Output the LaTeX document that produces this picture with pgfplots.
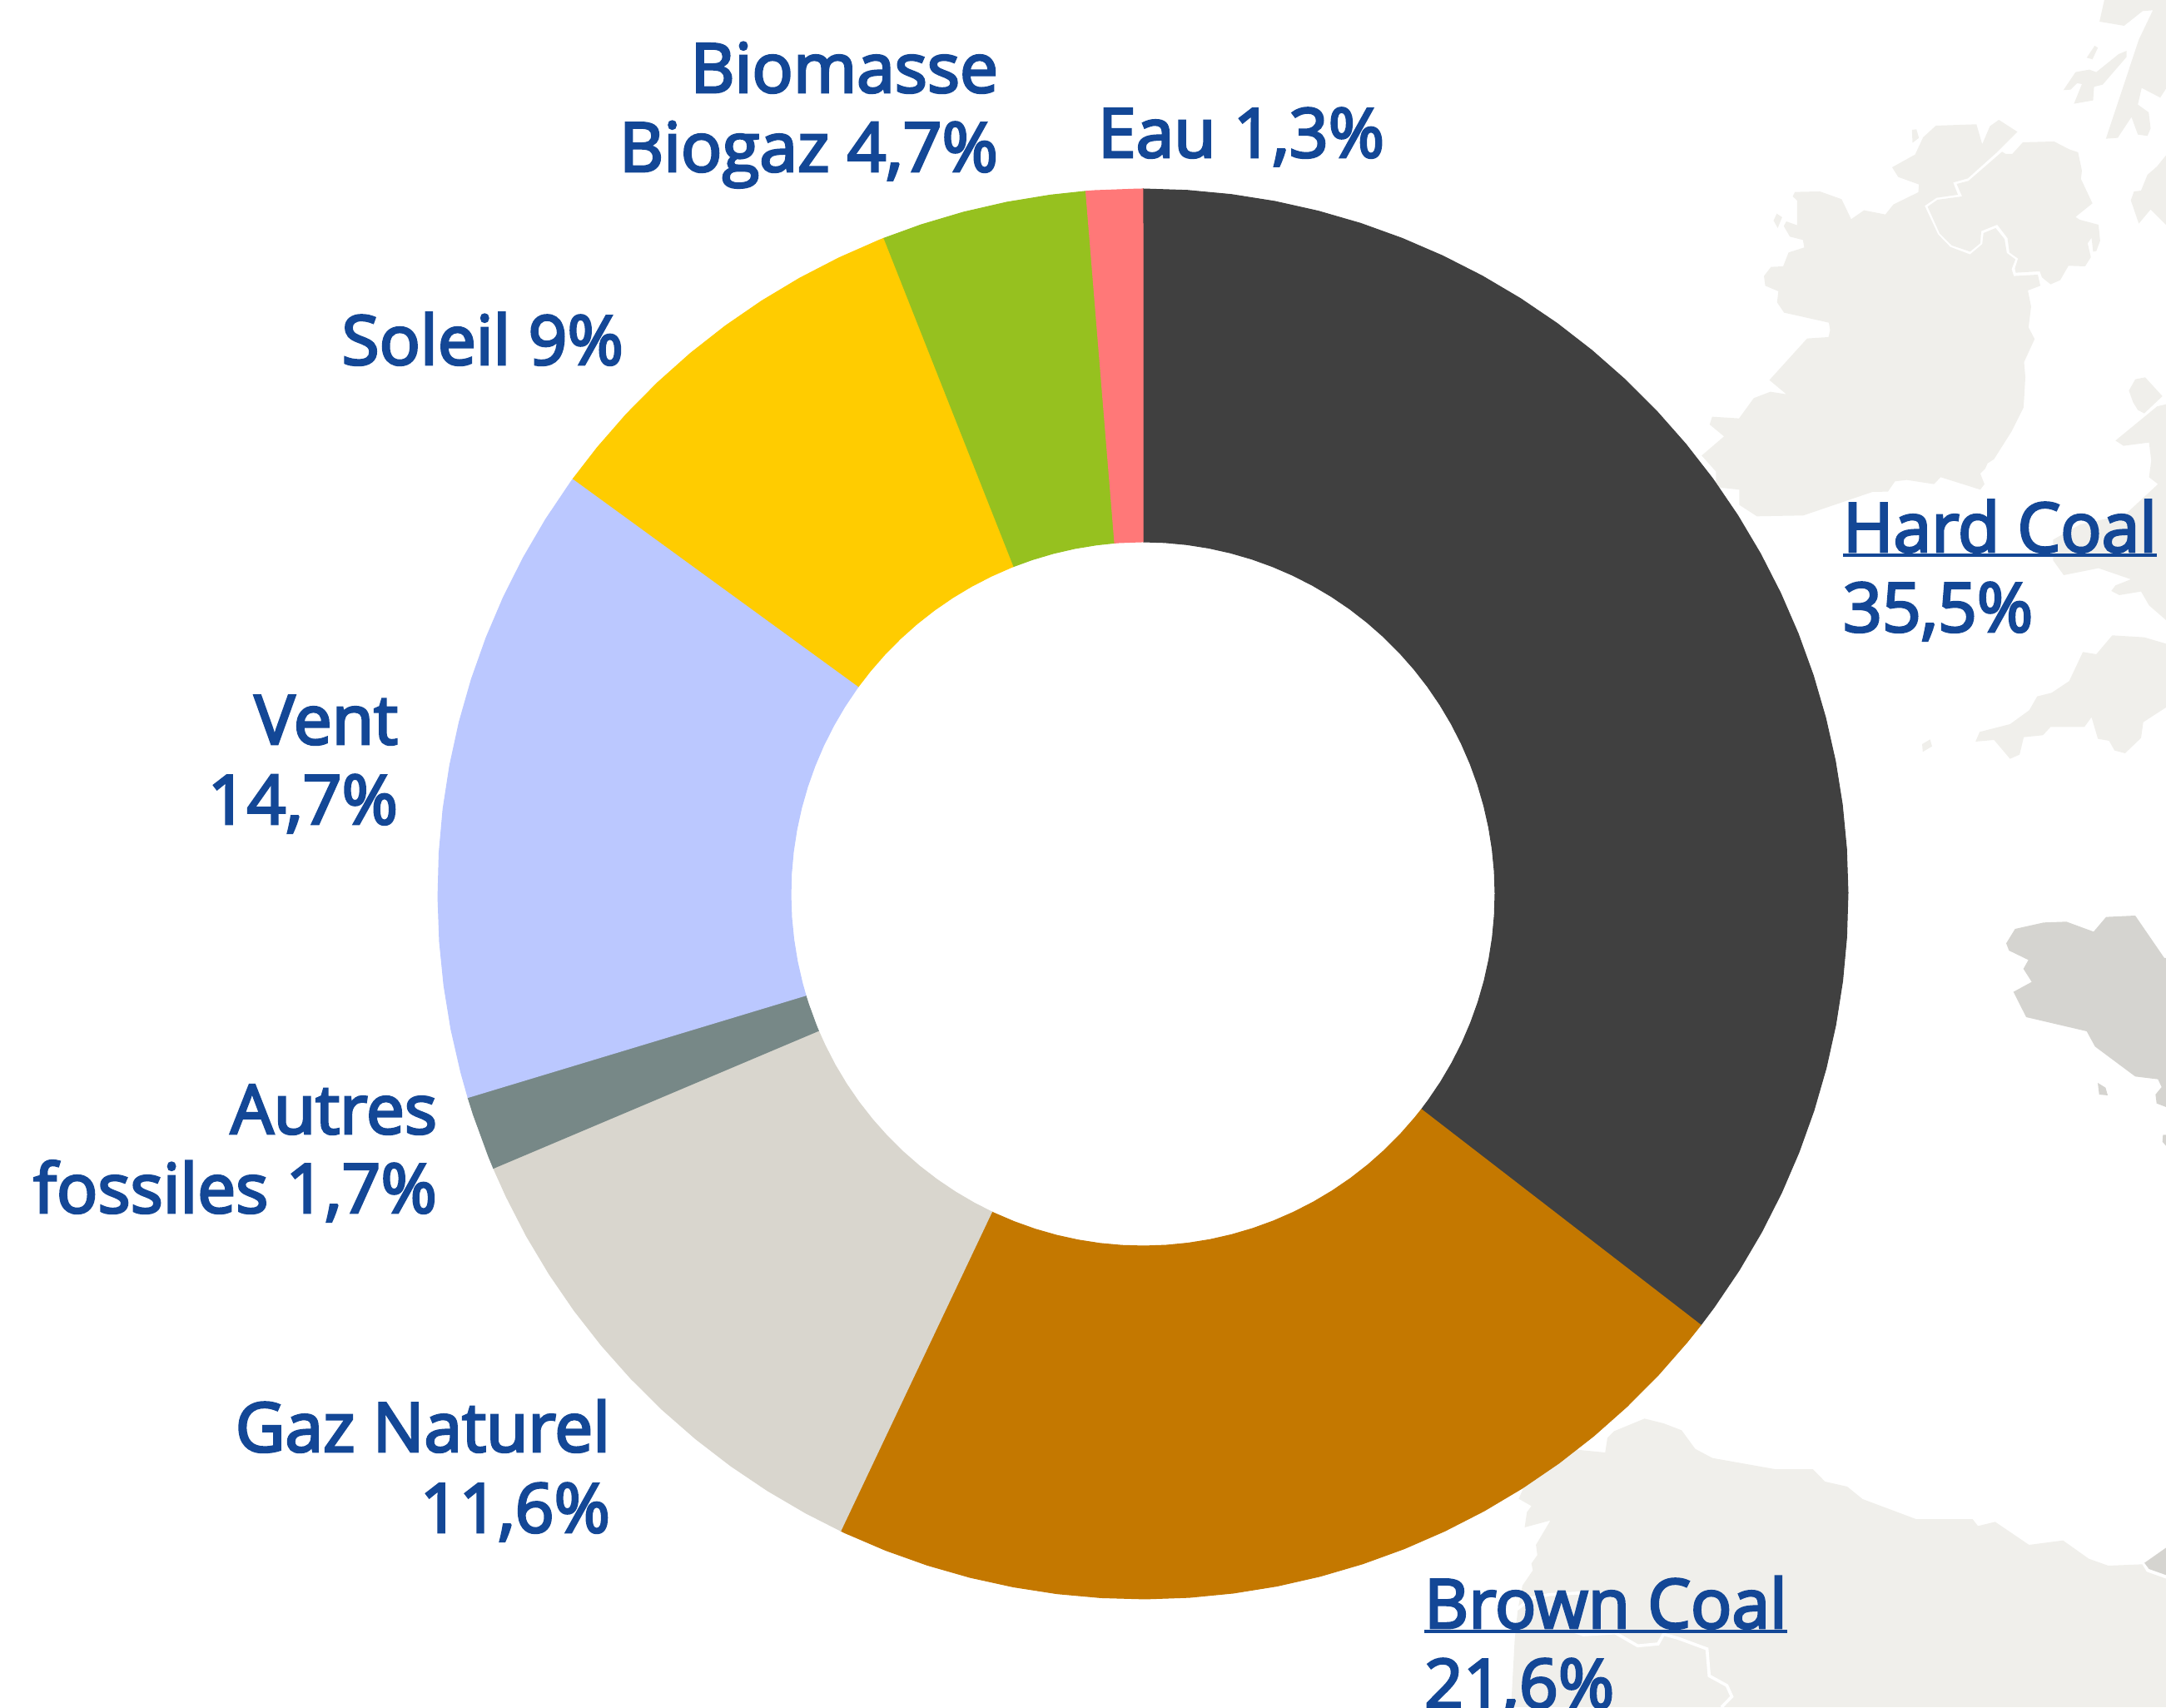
\documentclass[border=0pt]{standalone}
\usepackage{fontspec}
\setmainfont{Open Sans}[FakeBold=3.5]
\usepackage{pgfplots}
\pgfplotsset{compat=1.18}
\usepgfplotslibrary{polar}
\definecolor{txt}{HTML}{134796}
\definecolor{landA}{HTML}{F0EFEB}
\definecolor{landB}{HTML}{D5D4D0}
\definecolor{cCoal}{HTML}{404040}
\definecolor{cBrown}{HTML}{C47800}
\definecolor{cGas}{HTML}{D9D6CE}
\definecolor{cOther}{HTML}{778887}
\definecolor{cWind}{HTML}{BBC8FF}
\definecolor{cSun}{HTML}{FFCC00}
\definecolor{cBio}{HTML}{96C11F}
\definecolor{cWater}{HTML}{FF7878}
% map shape: colour, origin x, origin y, x scale, y scale, points
\newcommand{\poly}[6]{\addplot[fill=#1,draw=none,forget plot] table[header=false,row sep=\\,x expr={#2+\thisrowno{0}/#4-1373},y expr={1074-#3-\thisrowno{1}/#5}] {#6};}
\newcommand{\wline}[5]{\addplot[draw=white,line width=1.1pt,forget plot] table[header=false,row sep=\\,x expr={#1+\thisrowno{0}/#3-1373},y expr={1074-#2-\thisrowno{1}/#4}] {#5};}
% ring slice: colour, rows of (cumulative percent, radius)
\newcommand{\slice}[2]{\addplot[data cs=polar,fill=#1,draw=#1,line width=0.3pt,forget plot] table[header=false,row sep=\\,x expr={90-\thisrowno{0}*360/100.1},y expr={\thisrowno{1}}] {#2};}
\newsavebox{\ulbox}
\newcommand{\ul}[1]{\sbox{\ulbox}{#1}\rlap{\rule[-1.7pt]{\wd\ulbox}{1pt}}\usebox{\ulbox}}
\tikzset{lab/.style={inner sep=0pt,outer sep=0pt,text=txt,font=\fontsize{24.6pt}{29pt}\selectfont}}
\begin{document}
\begin{tikzpicture}
\begin{axis}[scale only axis,width=780.6pt,height=615.3pt,hide axis,
  xmin=-1373,xmax=1229,ymin=-977,ymax=1074,clip=true]
% --- map
\poly{landA}{2000}{0}{2.605}{3}{1120 513\\1218 510\\1265 538\\1293 549\\1305 615\\1302 645\\1338 733\\1285 782\\1298 792\\1357 810\\1362 868\\1350 905\\1340 907\\1335 857\\1323 877\\1333 927\\1315 960\\1263 958\\1237 1010\\1207 1025\\1180 1000\\1173 978\\1098 983\\1095 968\\1105 932\\1078 910\\1072 858\\1040 810\\990 833\\987 877\\955 907\\898 885\\860 842\\822 745\\853 720\\930 708\\913 663\\950 652\\1055 547\\1067 555\\1087 555\\}
\poly{landA}{2000}{0}{2.605}{3}{848 453\\975 448\\993 520\\1017 455\\1045 432\\1103 475\\1040 548\\948 643\\902 658\\917 702\\850 713\\813 742\\855 845\\893 890\\955 917\\993 880\\997 840\\1035 822\\1063 862\\1070 912\\1097 935\\1085 970\\1092 995\\1167 990\\1175 1030\\1136 1047\\1146 1105\\1138 1180\\1157 1222\\1124 1305\\1128 1360\\1124 1440\\1122 1470\\1085 1555\\1030 1655\\1010 1670\\1002 1690\\987 1707\\1000 1745\\987 1765\\863 1720\\842 1745\\757 1730\\720 1735\\698 1772\\650 1773\\433 1858\\288 1861\\233 1820\\233 1765\\160 1756\\160 1700\\115 1642\\185 1573\\140 1530\\148 1502\\232 1508\\278 1435\\330 1412\\380 1421\\327 1370\\445 1220\\512 1215\\517 1190\\513 1163\\373 1127\\351 1090\\355 1050\\314 1030\\310 995\\332 962\\370 960\\387 910\\436 892\\432 865\\391 853\\372 815\\380 798\\414 812\\414 723\\400 708\\407 692\\485 690\\553 718\\583 790\\623 758\\690 773\\715 737\\793 693\\795 665\\730 638\\711 603\\783 557\\808 495\\}
\poly{landA}{2000}{0}{2.605}{3}{1375 0\\1360 78\\1437 93\\1495 40\\1527 37\\1483 143\\1380 500\\1417 497\\1460 422\\1480 485\\1510 490\\1520 463\\1514 405\\1480 377\\1492 317\\1550 352\\1568 320\\1568 0\\}
\poly{landA}{2000}{0}{2.605}{3}{1345 165\\1355 172\\1338 214\\1320 208\\}
\poly{landA}{2000}{0}{2.605}{3}{1285 260\\1328 251\\1350 260\\1420 195\\1445 183\\1445 205\\1370 305\\1343 313\\1340 362\\1280 374\\1305 303\\1290 300\\1270 323\\1247 325\\}
\poly{landA}{2000}{0}{2.605}{3}{1568 560\\1540 600\\1510 630\\1490 687\\1468 690\\1458 722\\1483 806\\1520 755\\1568 810\\}
\poly{landA}{2000}{0}{2.605}{3}{773 468\\787 466\\795 497\\775 515\\}
\poly{landA}{2000}{0}{2.605}{3}{340 795\\350 770\\367 783\\353 822\\}
\poly{landA}{2000}{440}{2.605}{3}{1472 47\\1503 40\\1557 108\\1500 170\\1480 158\\1465 130\\1452 88\\}
\poly{landA}{2000}{440}{2.605}{3}{1410 268\\1540 145\\1568 137\\1568 915\\1515 862\\1490 812\\1422 825\\1397 810\\1410 790\\1458 768\\1357 728\\1248 753\\1215 700\\1215 625\\1300 570\\1440 535\\1543 425\\1515 400\\1522 340\\1515 275\\1435 287\\}
\poly{landA}{2000}{440}{2.605}{3}{1400 970\\1500 977\\1568 1000\\1568 1230\\1497 1283\\1490 1340\\1440 1395\\1407 1385\\1390 1350\\1355 1343\\1335 1265\\1313 1300\\1207 1300\\1183 1330\\1123 1337\\1110 1400\\1080 1415\\1030 1347\\972 1353\\985 1318\\1080 1290\\1140 1240\\1165 1190\\1210 1177\\1265 1135\\1308 1030\\1350 1038\\}
\poly{landA}{2000}{440}{2.605}{3}{805 1362\\830 1345\\836 1370\\807 1390\\}
\poly{landB}{2300}{1050}{3}{3}{362 198\\465 175\\547 172\\645 208\\690 155\\795 150\\900 303\\906 303\\906 840\\872 827\\868 795\\890 768\\877 740\\795 730\\650 622\\620 567\\402 516\\356 425\\422 389\\392 342\\410 310\\340 276\\330 250\\}
\poly{landB}{2300}{1050}{3}{3}{660 753\\688 770\\696 798\\665 795\\}
\poly{landB}{2300}{1050}{3}{3}{895 940\\906 940\\906 980\\893 965\\}
\poly{landA}{1750}{1650}{1.84}{3}{415 163\\457 180\\497 205\\527 272\\565 305\\703 345\\787 345\\814 390\\863 408\\897 453\\1015 525\\1140 525\\1152 550\\1190 535\\1265 618\\1340 602\\1397 668\\1440 693\\1515 688\\1525 715\\1568 740\\1568 1203\\120 1203\\128 960\\135 850\\145 765\\168 710\\165 685\\178 655\\175 618\\207 530\\150 555\\155 500\\165 478\\137 452\\148 410\\200 300\\265 275\\328 285\\333 232\\348 208\\}
\poly{landB}{1750}{1650}{1.84}{3}{1568 628\\1520 683\\1530 705\\1568 727\\}
\wline{1750}{1650}{1.84}{3}{133 850\\165 810\\205 797\\290 790\\270 880\\250 925\\280 942\\350 935\\400 982\\445 975\\457 940\\490 955\\553 993\\558 1090\\597 1125\\608 1165\\585 1203\\}
% --- ring
\slice{cCoal}{0 847\\1 847\\2 847\\3 847\\4 847\\5 847\\6 847\\7 847\\8 847\\9 847\\10 847\\11 847\\12 847\\13 847\\14 847\\15 847\\16 847\\17 847\\18 847\\19 847\\20 847\\21 847\\22 847\\23 847\\24 847\\25 847\\26 847\\27 847\\28 847\\29 847\\30 847\\31 847\\32 847\\33 847\\34 847\\35 847\\35.5 847\\35.5 423\\35 423\\34 423\\33 423\\32 423\\31 423\\30 423\\29 423\\28 423\\27 423\\26 423\\25 423\\24 423\\23 423\\22 423\\21 423\\20 423\\19 423\\18 423\\17 423\\16 423\\15 423\\14 423\\13 423\\12 423\\11 423\\10 423\\9 423\\8 423\\7 423\\6 423\\5 423\\4 423\\3 423\\2 423\\1 423\\0 423\\}
\slice{cBrown}{35.5 847\\36 847\\37 847\\38 847\\39 847\\40 847\\41 847\\42 847\\43 847\\44 847\\45 847\\46 847\\47 847\\48 847\\49 847\\50 847\\51 847\\52 847\\53 847\\54 847\\55 847\\56 847\\57 847\\57.1 847\\57.1 423\\57 423\\56 423\\55 423\\54 423\\53 423\\52 423\\51 423\\50 423\\49 423\\48 423\\47 423\\46 423\\45 423\\44 423\\43 423\\42 423\\41 423\\40 423\\39 423\\38 423\\37 423\\36 423\\35.5 423\\}
\slice{cGas}{57.1 847\\58 847\\59 847\\60 847\\61 847\\62 847\\63 847\\64 847\\65 847\\66 847\\67 847\\68 847\\68.7 847\\68.7 423\\68 423\\67 423\\66 423\\65 423\\64 423\\63 423\\62 423\\61 423\\60 423\\59 423\\58 423\\57.1 423\\}
\slice{cOther}{68.7 847\\69 847\\70 847\\70.4 847\\70.4 423\\70 423\\69 423\\68.7 423\\}
\slice{cWind}{70.4 847\\71 847\\72 847\\73 847\\74 847\\75 847\\76 847\\77 847\\78 847\\79 847\\80 847\\81 847\\82 847\\83 847\\84 847\\85 847\\85.1 847\\85.1 423\\85 423\\84 423\\83 423\\82 423\\81 423\\80 423\\79 423\\78 423\\77 423\\76 423\\75 423\\74 423\\73 423\\72 423\\71 423\\70.4 423\\}
\slice{cSun}{85.1 847\\86 847\\87 847\\88 847\\89 847\\90 847\\91 847\\92 847\\93 847\\94 847\\94.1 847\\94.1 423\\94 423\\93 423\\92 423\\91 423\\90 423\\89 423\\88 423\\87 423\\86 423\\85.1 423\\}
\slice{cBio}{94.1 847\\95 847\\96 847\\97 847\\98 847\\98.8 847\\98.8 423\\98 423\\97 423\\96 423\\95 423\\94.1 423\\}
\slice{cWater}{98.8 847\\99 847\\100 847\\100.1 847\\100.1 423\\100 423\\99 423\\98.8 423\\}
% --- labels (axis cs: x-1373, 1074-y)
\node[lab,anchor=base west] at (axis cs:841,411) {\ul{Hard Coal}};
\node[lab,anchor=base west] at (axis cs:841,315) {35,5\%};
\node[lab,anchor=base west] at (axis cs:338,-882) {\ul{Brown Coal}};
\node[lab,anchor=base west] at (axis cs:338,-978) {21,6\%};
\node[lab,anchor=base east] at (axis cs:-640,-670) {Gaz Naturel};
\node[lab,anchor=base east] at (axis cs:-640,-767) {11,6\%};
\node[lab,anchor=base east] at (axis cs:-848,-288) {Autres};
\node[lab,anchor=base east] at (axis cs:-848,-383) {fossiles 1,7\%};
\node[lab,anchor=base east] at (axis cs:-895,180) {Vent};
\node[lab,anchor=base east] at (axis cs:-895,84) {14,7\%};
\node[lab,anchor=base east] at (axis cs:-624,636) {Soleil 9\%};
\node[lab,anchor=base east] at (axis cs:-174,963) {Biomasse};
\node[lab,anchor=base east] at (axis cs:-174,868) {Biogaz 4,7\%};
\node[lab,anchor=base west] at (axis cs:-54,885) {Eau 1,3\%};
\end{axis}
\pgfresetboundingbox
\path (0,0) rectangle (780.6pt,615.3pt);
\end{tikzpicture}
\end{document}
